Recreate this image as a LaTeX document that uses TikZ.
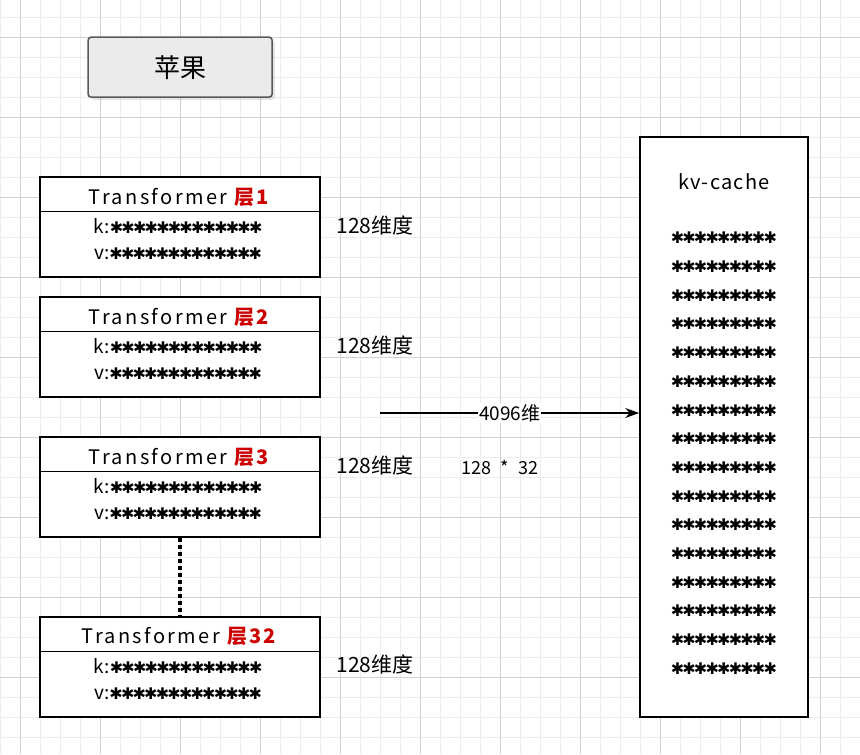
\documentclass[tikz,border=0pt]{standalone}
\usepackage{fontspec}
\setmainfont{Noto Sans CJK SC}
\newfontfamily\starfont{DejaVu Sans}
\usetikzlibrary{positioning,shadows,arrows.meta}
\newcommand{\Stars}[1]{{\starfont\foreach \i in {1,...,#1}{✱\hspace{-1.8pt}}}}
\definecolor{gridminor}{gray}{0.93}
\definecolor{gridmajor}{gray}{0.82}
\definecolor{layerred}{RGB}{204,0,0}
\begin{document}
\begin{tikzpicture}[x=1pt, y=-1pt,
  layer/.style={rectangle, draw, line width=1.4pt, minimum width=280pt, minimum height=100pt, inner sep=0pt},
  head/.style={font=\fontsize{20}{20}\selectfont\addfontfeatures{LetterSpace=12}},
  row/.style={font=\fontsize{16}{16}\selectfont, inner sep=0pt},
  dim/.style={font=\fontsize{21}{21}\selectfont, anchor=west},
  arrow/.style={-{Stealth[length=14pt,width=10pt]}, line width=1.5pt}
]
% background grid
\fill[white] (0,0) rectangle (860,754);
\foreach \g in {0,20,...,860} \draw[gridminor] (\g,0) -- (\g,754);
\foreach \g in {17,37,...,754} \draw[gridminor] (0,\g) -- (860,\g);
\foreach \g in {20,100,...,860} \draw[gridmajor] (\g,0) -- (\g,754);
\foreach \g in {37,117,...,754} \draw[gridmajor] (0,\g) -- (860,\g);
\useasboundingbox (0,0) rectangle (860,754);

% title
\node[rectangle, draw=black!65, line width=1.6pt, fill=black!8, rounded corners=3pt, drop shadow={opacity=0.2},
  minimum width=184pt, minimum height=60pt, font=\fontsize{26}{26}\selectfont] (apple) at (180,67) {苹果};

% layers
\node[layer, fill=white] (l1) at (180,227) {};
\node[layer, fill=white] (l2) at (180,347) {};
\node[layer, fill=white] (l3) at (180,487) {};
\node[layer, fill=white] (l32) at (180,667) {};

\draw[line width=1.4pt] ([yshift=-35pt]l1.north west) -- ([yshift=-35pt]l1.north east);
\draw[line width=1.4pt] ([yshift=-35pt]l2.north west) -- ([yshift=-35pt]l2.north east);
\draw[line width=1.4pt] ([yshift=-35pt]l3.north west) -- ([yshift=-35pt]l3.north east);
\draw[line width=1.4pt] ([yshift=-35pt]l32.north west) -- ([yshift=-35pt]l32.north east);

\node[head] (h1) at (180,197) {Transformer \textcolor{layerred}{\textbf{层1}}};
\node[head] (h2) at (180,317) {Transformer \textcolor{layerred}{\textbf{层2}}};
\node[head] (h3) at (180,457) {Transformer \textcolor{layerred}{\textbf{层3}}};
\node[head] (h32) at (180,637) {Transformer \textcolor{layerred}{\textbf{层32}}};

\node[row] (k1) at (178,226) {{\fontsize{19}{19}\selectfont k:}\Stars{13}};
\node[row] (v1) at (178,254) {{\fontsize{19}{19}\selectfont v:}\Stars{13}};
\node[row] (k2) at (178,346) {{\fontsize{19}{19}\selectfont k:}\Stars{13}};
\node[row] (v2) at (178,374) {{\fontsize{19}{19}\selectfont v:}\Stars{13}};
\node[row] (k3) at (178,486) {{\fontsize{19}{19}\selectfont k:}\Stars{13}};
\node[row] (v3) at (178,514) {{\fontsize{19}{19}\selectfont v:}\Stars{13}};
\node[row] (k32) at (178,666) {{\fontsize{19}{19}\selectfont k:}\Stars{13}};
\node[row] (v32) at (178,694) {{\fontsize{19}{19}\selectfont v:}\Stars{13}};

\node[dim] (d1) at (333,225) {128维度};
\node[dim] (d2) at (333,345) {128维度};
\node[dim] (d3) at (333,465) {128维度};
\node[dim] (d32) at (333,665) {128维度};

% omitted layers
\draw[line width=3.5pt, dash pattern=on 4pt off 3pt] (l3.south) -- (l32.north);

% kv-cache
\node[rectangle, draw, line width=1.4pt, fill=white, minimum width=168pt, minimum height=580pt] (kv) at (724,427) {};
\node[font=\fontsize{20}{20}\selectfont\addfontfeatures{LetterSpace=6}] (kvt) at (724,182) {kv-cache};
\foreach \r in {0,...,15}
  \node[row] (s\r) at (724,238+28.7*\r) {\Stars{9}};

% projection
\coordinate (src) at (380,413);
\draw[arrow] (src) -- (kv.west |- src)
  node[midway, fill=white, inner sep=1pt, font=\fontsize{19}{19}\selectfont] (n4096) {4096维};
\node[font=\fontsize{18}{18}\selectfont] (mul) at (500,467) {128 \;*\; 32};
\end{tikzpicture}
\end{document}
